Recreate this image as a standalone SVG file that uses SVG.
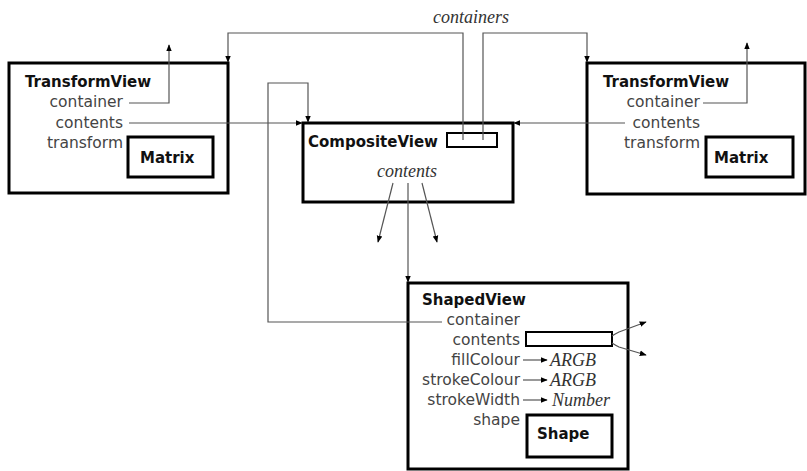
<svg xmlns="http://www.w3.org/2000/svg" width="807" height="471" viewBox="0 0 807 471">
<defs>
<marker id="ah" viewBox="0 0 10 10" refX="9" refY="5" markerWidth="7" markerHeight="7" markerUnits="userSpaceOnUse" orient="auto">
<path d="M0,1 L10,5 L0,9 Z" fill="#000"/>
</marker>
<style>
.box{fill:#fff;stroke:#000;stroke-width:3}
.sub{fill:#fff;stroke:#000;stroke-width:3}
.slot{fill:#fff;stroke:#000;stroke-width:2}
.t{font-family:"DejaVu Sans",sans-serif;font-weight:bold;font-size:15px;fill:#111}
.f{font-family:"DejaVu Sans",sans-serif;font-size:15.5px;fill:#444;text-anchor:end}
.i{font-family:"Liberation Serif",serif;font-style:italic;font-size:18px;fill:#333}
.c{fill:none;stroke:#555;stroke-width:1.2}
.ca{fill:none;stroke:#555;stroke-width:1.2;marker-end:url(#ah)}
</style>
</defs>
<rect width="807" height="471" fill="#fff"/>

<g id="transformview-left">
<rect class="box" x="9" y="63" width="219" height="130"/>
<text class="t" x="25" y="87">TransformView</text>
<text class="f" x="123" y="107">container</text>
<text class="f" x="123" y="128">contents</text>
<text class="f" x="123" y="148">transform</text>
<rect class="sub" x="128" y="137" width="85" height="40"/>
<text class="t" x="140" y="163">Matrix</text>
</g>

<g id="compositeview">
<rect class="box" x="303" y="123" width="210" height="79"/>
<text class="t" x="308" y="147">CompositeView</text>
<rect class="slot" x="447" y="133" width="50" height="14"/>
<text class="i" x="407" y="177" text-anchor="middle">contents</text>
</g>

<g id="transformview-right">
<rect class="box" x="587" y="63" width="218" height="131"/>
<text class="t" x="603" y="87">TransformView</text>
<text class="f" x="700" y="107">container</text>
<text class="f" x="700" y="128">contents</text>
<text class="f" x="700" y="148">transform</text>
<rect class="sub" x="706" y="137" width="87" height="40"/>
<text class="t" x="714" y="163">Matrix</text>
</g>

<g id="shapedview">
<rect class="box" x="408" y="283" width="220" height="186"/>
<text class="t" x="422" y="305">ShapedView</text>
<text class="f" x="520" y="325">container</text>
<text class="f" x="520" y="345">contents</text>
<rect class="slot" x="526" y="332" width="86" height="14"/>
<text class="f" x="520" y="365">fillColour</text>
<text class="f" x="520" y="385">strokeColour</text>
<text class="f" x="520" y="405">strokeWidth</text>
<text class="f" x="520" y="425">shape</text>
<text class="i" x="550" y="366">ARGB</text>
<text class="i" x="550" y="386">ARGB</text>
<text class="i" x="552" y="406">Number</text>
<rect class="sub" x="527" y="415" width="85" height="42"/>
<text class="t" x="537" y="439">Shape</text>
</g>

<g id="labels">
<text class="i" x="471" y="23" text-anchor="middle">containers</text>
</g>

<g id="connectors">
<!-- left TransformView container -> up -->
<polyline class="ca" points="129,103 169,103 169,45"/>
<!-- left contents -> CompositeView -->
<polyline class="ca" points="129,123 302,123"/>
<!-- right container -> up -->
<polyline class="ca" points="703,103 747,103 747,43"/>
<!-- right contents -> CompositeView -->
<polyline class="ca" points="625,123 514,123"/>
<!-- containers -> left TransformView -->
<polyline class="ca" points="463,140 463,33 228,33 228,62"/>
<!-- containers -> right TransformView -->
<polyline class="ca" points="483,140 483,33 587,33 587,62"/>
<!-- ShapedView container -> CompositeView -->
<polyline class="ca" points="442,322 268,322 268,83 308,83 308,122"/>
<!-- CompositeView contents -->
<line class="ca" x1="393" y1="183" x2="378" y2="242"/>
<line class="ca" x1="408" y1="183" x2="408" y2="282"/>
<line class="ca" x1="422" y1="183" x2="437" y2="242"/>
<!-- ShapedView contents -->
<path class="ca" d="M612,336 Q615,334 619,332 L646,322"/>
<path class="ca" d="M612,343 Q615,345 619,347 L646,355"/>
<!-- attribute arrows -->
<line class="ca" x1="523" y1="360" x2="547" y2="360"/>
<line class="ca" x1="523" y1="380" x2="547" y2="380"/>
<line class="ca" x1="523" y1="400" x2="547" y2="400"/>
</g>
</svg>
